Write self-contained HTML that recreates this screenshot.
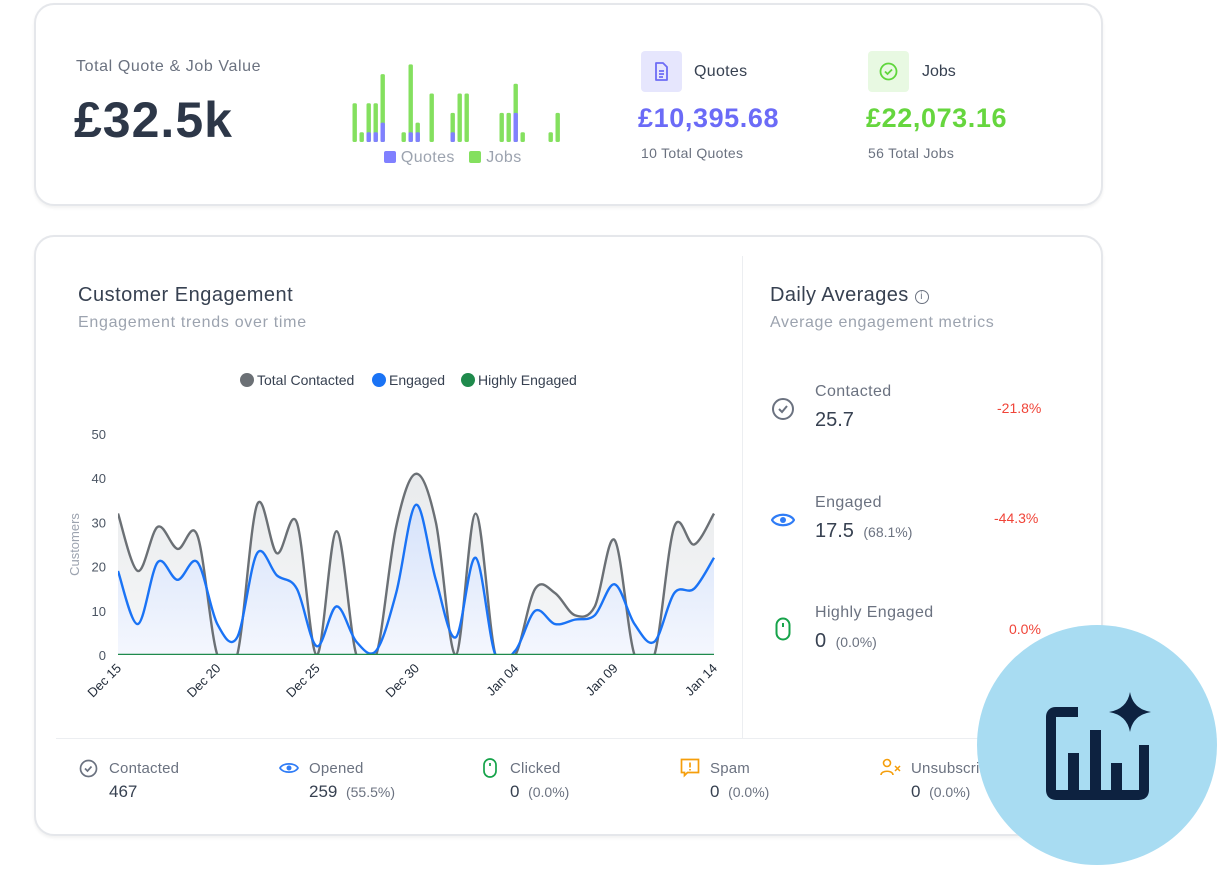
<!DOCTYPE html>
<html><head><meta charset="utf-8"><style>
*{box-sizing:border-box;margin:0;padding:0}
body{width:1217px;height:866px;background:#fff;font-family:"Liberation Sans",sans-serif;position:relative;overflow:hidden;color:#374151}
.card{position:absolute;border:2px solid #e5e7eb;border-radius:20px;background:#fff;box-shadow:0 2px 3px rgba(0,0,0,.06)}
.abs{position:absolute;white-space:nowrap}
.gray{color:#6b7280}
</style></head><body>
<div class="card" style="left:34px;top:3px;width:1069px;height:203px"></div>
<div class="abs gray" style="left:76px;top:58px;font-size:16px;letter-spacing:.6px">Total Quote &amp; Job Value</div>
<div class="abs" style="left:74px;top:91px;font-size:50px;font-weight:bold;color:#2d3748;letter-spacing:1px">£32.5k</div>
<svg class="abs" id="mini" style="left:340px;top:55px" width="240" height="120"></svg>
<div class="abs" style="left:384px;top:149px;font-size:16px;color:#9ca3af;letter-spacing:.4px"><span style="display:inline-block;width:12px;height:12px;background:#8080ff;border-radius:2px;vertical-align:-1px"></span> Quotes &nbsp;&nbsp;<span style="display:inline-block;width:12px;height:12px;background:#84e05f;border-radius:2px;vertical-align:-1px"></span> Jobs</div>

<div class="abs" style="left:641px;top:51px;width:41px;height:41px;background:#e6e6fd;border-radius:4px"><svg width="41" height="41"><path d="M15 12h7l4 4v13h-11z M18 20h5M18 23h5M18 26h4" fill="none" stroke="#6d6cf5" stroke-width="1.8" stroke-linejoin="round"/></svg></div>
<div class="abs" style="left:694px;top:63px;font-size:16px;color:#374151;letter-spacing:.3px">Quotes</div>
<div class="abs" style="left:638px;top:103px;font-size:27px;font-weight:bold;color:#6b6bf7;letter-spacing:.6px">£10,395.68</div>
<div class="abs gray" style="left:641px;top:145px;font-size:14px;letter-spacing:.3px">10 Total Quotes</div>
<div class="abs" style="left:868px;top:51px;width:41px;height:41px;background:#e8f9e2;border-radius:4px"><svg width="41" height="41"><circle cx="20.5" cy="20.5" r="8" fill="none" stroke="#5fd63c" stroke-width="1.8"/><path d="M17 20.5l2.5 2.5 4.5-4.5" fill="none" stroke="#5fd63c" stroke-width="1.8"/></svg></div>
<div class="abs" style="left:922px;top:63px;font-size:16px">Jobs</div>
<div class="abs" style="left:866px;top:103px;font-size:27px;font-weight:bold;color:#66d63e;letter-spacing:.6px">£22,073.16</div>
<div class="abs gray" style="left:868px;top:145px;font-size:14px;letter-spacing:.3px">56 Total Jobs</div>

<div class="card" style="left:34px;top:235px;width:1069px;height:601px"></div>
<div class="abs" style="left:742px;top:256px;width:1px;height:482px;background:#eceef1"></div>
<div class="abs" style="left:56px;top:738px;width:1026px;height:1px;background:#eceef1"></div>
<div class="abs" style="left:78px;top:284px;font-size:20px;letter-spacing:.5px">Customer Engagement</div>
<div class="abs" style="left:78px;top:314px;font-size:16px;color:#9ca3af;letter-spacing:.7px">Engagement trends over time</div>
<svg class="abs" id="chart" style="left:0;top:360px" width="740" height="360"></svg>

<div class="abs" style="left:770px;top:284px;font-size:20px;letter-spacing:.4px">Daily Averages <span style="display:inline-block;width:14px;height:14px;border:1.5px solid #6b7280;border-radius:50%;font-size:10px;text-align:center;line-height:11px;vertical-align:2px;color:#6b7280">i</span></div>
<div class="abs" style="left:770px;top:314px;font-size:16px;color:#9ca3af;letter-spacing:.6px">Average engagement metrics</div>

<svg class="abs" style="left:771px;top:397px" width="24" height="24"><circle cx="12" cy="12" r="10" fill="none" stroke="#6b7280" stroke-width="2"/><path d="M8 12l3 3 5-6" fill="none" stroke="#6b7280" stroke-width="2"/></svg>
<div class="abs gray" style="left:815px;top:383px;font-size:16px;letter-spacing:.4px">Contacted</div>
<div class="abs" style="left:815px;top:409px;font-size:20px">25.7</div>
<div class="abs" style="left:997px;top:400px;font-size:14px;color:#f04438">-21.8%</div>
<svg class="abs" style="left:771px;top:508px" width="24" height="24"><path d="M1 12C5 5 19 5 23 12C19 19 5 19 1 12Z" fill="none" stroke="#2f7cf6" stroke-width="2.2"/><circle cx="12" cy="12" r="3" fill="#2f7cf6"/></svg>
<div class="abs gray" style="left:815px;top:494px;font-size:16px;letter-spacing:.4px">Engaged</div>
<div class="abs" style="left:815px;top:520px;font-size:20px">17.5 <span style="font-size:14px;color:#6b7280">&nbsp;(68.1%)</span></div>
<div class="abs" style="left:994px;top:510px;font-size:14px;color:#f04438">-44.3%</div>
<svg class="abs" style="left:775px;top:617px" width="16" height="24"><rect x="1.5" y="1.5" width="13" height="21" rx="6.5" fill="none" stroke="#16a34a" stroke-width="2"/><path d="M8 6v4" stroke="#16a34a" stroke-width="2"/></svg>
<div class="abs gray" style="left:815px;top:604px;font-size:16px;letter-spacing:.4px">Highly Engaged</div>
<div class="abs" style="left:815px;top:630px;font-size:20px">0 <span style="font-size:14px;color:#6b7280">&nbsp;(0.0%)</span></div>
<div class="abs" style="left:1009px;top:621px;font-size:14px;color:#f04438">0.0%</div>

<svg class="abs" style="left:79px;top:759px" width="19" height="19"><circle cx="9.5" cy="9.5" r="8" fill="none" stroke="#6b7280" stroke-width="1.7"/><path d="M6 9.5l2.5 2.5 4-4.5" fill="none" stroke="#6b7280" stroke-width="1.7"/></svg>
<div class="abs gray" style="left:109px;top:760px;font-size:15px;letter-spacing:.2px">Contacted</div>
<div class="abs" style="left:109px;top:782px;font-size:17px">467</div>
<svg class="abs" style="left:279px;top:760px" width="20" height="16"><path d="M1 8C4 2.5 16 2.5 19 8C16 13.5 4 13.5 1 8Z" fill="none" stroke="#2f7cf6" stroke-width="1.8"/><circle cx="10" cy="8" r="2.5" fill="#2f7cf6"/></svg>
<div class="abs gray" style="left:309px;top:760px;font-size:15px;letter-spacing:.2px">Opened</div>
<div class="abs" style="left:309px;top:782px;font-size:17px">259 <span style="font-size:14px;color:#6b7280">&nbsp;(55.5%)</span></div>
<svg class="abs" style="left:483px;top:758px" width="14" height="20"><rect x="1" y="1" width="12" height="18" rx="6" fill="none" stroke="#16a34a" stroke-width="1.7"/><path d="M7 5v3" stroke="#16a34a" stroke-width="1.7"/></svg>
<div class="abs gray" style="left:510px;top:760px;font-size:15px;letter-spacing:.2px">Clicked</div>
<div class="abs" style="left:510px;top:782px;font-size:17px">0 <span style="font-size:14px;color:#6b7280">&nbsp;(0.0%)</span></div>
<svg class="abs" style="left:680px;top:758px" width="20" height="20"><path d="M1.5 1.5h17v13h-11l-3 3v-3h-3z" fill="none" stroke="#f59e0b" stroke-width="1.7"/><path d="M10 4.5v5M10 11v1.5" stroke="#f59e0b" stroke-width="1.7"/></svg>
<div class="abs gray" style="left:710px;top:760px;font-size:15px;letter-spacing:.2px">Spam</div>
<div class="abs" style="left:710px;top:782px;font-size:17px">0 <span style="font-size:14px;color:#6b7280">&nbsp;(0.0%)</span></div>
<svg class="abs" style="left:880px;top:758px" width="22" height="20"><circle cx="7" cy="5" r="3.5" fill="none" stroke="#f59e0b" stroke-width="1.6"/><path d="M1 17c0-5 12-5 12 0" fill="none" stroke="#f59e0b" stroke-width="1.6"/><path d="M15 8l5 5M20 8l-5 5" stroke="#f59e0b" stroke-width="1.5"/></svg>
<div class="abs gray" style="left:911px;top:760px;font-size:15px;letter-spacing:.2px">Unsubscribed</div>
<div class="abs" style="left:911px;top:782px;font-size:17px">0 <span style="font-size:14px;color:#6b7280">&nbsp;(0.0%)</span></div>

<div class="abs" style="left:977px;top:625px;width:240px;height:240px;border-radius:50%;background:#a8dcf2">
<svg width="240" height="240"><path d="M101 87H79Q74 87 74 92V165Q74 170 79 170H162Q167 170 167 165V120" fill="none" stroke="#0d2240" stroke-width="10"/>
<rect x="91" y="128" width="11" height="37" fill="#0d2240"/><rect x="113" y="105" width="11" height="60" fill="#0d2240"/><rect x="134" y="138" width="11" height="27" fill="#0d2240"/>
<path d="M153 67Q156 84 174 87Q156 90 153 107Q150 90 132 87Q150 84 153 67Z" fill="#0d2240"/></svg></div>

<script>
// Mini chart data
const miniQuotes = [0,0,1,1,2,0,0,0,1,1,0,0,0,0,1,0,0,0,0,0,0,0,0,3,0,0,0,0,0,0];
const miniJobs   = [4,1,3,3,5,0,0,1,7,1,0,5,0,0,2,5,5,0,0,0,0,3,3,3,1,0,0,0,1,3];
const NS='http://www.w3.org/2000/svg';
const mini=document.getElementById('mini');
const mUnit=9.7, mBase=87;
function mx(i){return 14.7+i*7;}
function mh(v){return v*mUnit;}
miniQuotes.forEach((q,i)=>{
  const j=miniJobs[i]; if(q+j===0) return;
  const g=document.createElementNS(NS,'rect');
  g.setAttribute('x',mx(i)-2.2);g.setAttribute('width',4.4);
  g.setAttribute('y',mBase-mh(q+j));g.setAttribute('height',mh(q+j));g.setAttribute('rx',1.5);g.setAttribute('fill','#84e05f');
  
  
  mini.appendChild(g);
  if(q>0){const p=document.createElementNS(NS,'rect');
  p.setAttribute('x',mx(i)-2.2);p.setAttribute('width',4.4);
  p.setAttribute('y',mBase-mh(q));p.setAttribute('height',mh(q));p.setAttribute('rx',1.5);p.setAttribute('fill','#8080ff');
  
  
  mini.appendChild(p);}
});

// Engagement chart data
const dayLabels = ['Dec 15','Dec 20','Dec 25','Dec 30','Jan 04','Jan 09','Jan 14'];
const yTicks = [0,10,20,30,40,50];
const totalContacted = [32,19,29,24,27,0,0,34,23,30,0,28,0,0,29,41,30,0,32,0,0,15,14,9,11,26,0,0,29,25,32];
const engaged        = [19,7,21,17,21,7,4,23,18,15,2,11,3,1,14,34,17,4,22,0,1,10,7,8,9,16,7,3,14,15,22];
const highlyEngaged  = [0,0,0,0,0,0,0,0,0,0,0,0,0,0,0,0,0,0,0,0,0,0,0,0,0,0,0,0,0,0,0];
const svg=document.getElementById('chart');
const X0=118,X1=714,Y0=295,YT=74;
function xs(i){return X0+(X1-X0)*i/(totalContacted.length-1);}
function ys(v){return Y0-(Y0-YT)*v/50;}
function el(t,a){const e=document.createElementNS(NS,t);for(const k in a)e.setAttribute(k,a[k]);svg.appendChild(e);return e;}
svg.innerHTML='<defs><clipPath id="cp"><rect x="118" y="60" width="597" height="235"/></clipPath><linearGradient id="gg" x1="0" y1="0" x2="0" y2="1"><stop offset="0" stop-color="#e9ebed"/><stop offset="1" stop-color="#f7f8f9"/></linearGradient><linearGradient id="gb" x1="0" y1="0" x2="0" y2="1"><stop offset="0" stop-color="#d5e2fa"/><stop offset="1" stop-color="#f6f8fe"/></linearGradient></defs>';
yTicks.forEach(t=>{const e=el('text',{x:106,y:ys(t)+5,'text-anchor':'end','font-size':13,fill:'#4b5563'});e.textContent=t;
  
  });
const yt=el('text',{x:0,y:0,transform:'translate(79,'+(YT+Y0)/2+') rotate(-90)','text-anchor':'middle','font-size':13,fill:'#9ca3af'});yt.textContent='Customers';


dayLabels.forEach((d,k)=>{const x=xs(k*5);const e=el('text',{x:0,y:0,transform:'translate('+(x+4)+','+(Y0+14)+') rotate(-45)','text-anchor':'end','font-size':13,fill:'#1f2937'});e.textContent=d;
  
  });
function path(arr){const p=arr.map((v,i)=>[xs(i),ys(v)]);let d='M'+p[0][0]+','+p[0][1];const t=0.5;
  for(let i=0;i<p.length-1;i++){const a=p[i-1]||p[i],b=p[i],c=p[i+1],e=p[i+2]||c;
    d+=' C'+(b[0]+(c[0]-a[0])*t/3)+','+(b[1]+(c[1]-a[1])*t/3)+' '+(c[0]-(e[0]-b[0])*t/3)+','+(c[1]-(e[1]-b[1])*t/3)+' '+c[0]+','+c[1];}
  return d;}
const g=el('g',{'clip-path':'url(#cp)'});
function add(t,a,name){const e=document.createElementNS(NS,t);for(const k in a)e.setAttribute(k,a[k]);g.appendChild(e);
  
  }
const close=' L'+X1+','+Y0+' L'+X0+','+Y0+' Z';
add('path',{d:path(totalContacted)+close,fill:'url(#gg)'},'total-contacted-area');
add('path',{d:path(engaged)+close,fill:'url(#gb)'},'engaged-area');
add('path',{d:path(totalContacted),fill:'none',stroke:'#6b7075','stroke-width':2.4},'total-contacted-line');
add('path',{d:path(engaged),fill:'none',stroke:'#1a73f5','stroke-width':2.4},'engaged-line');
add('path',{d:path(highlyEngaged),fill:'none',stroke:'#1f8a4c','stroke-width':2.6},'highly-engaged-line');
const leg=[['Total Contacted','#6b7075',240],['Engaged','#1a73f5',372],['Highly Engaged','#1f8a4c',461]];
leg.forEach(l=>{const c=el('circle',{cx:l[2]+7,cy:20,r:7,fill:l[1]});
  
  
  const t=el('text',{x:l[2]+17,y:25,'font-size':14,fill:'#374151'});t.textContent=l[0];
  
  });
</script>
</body></html>
